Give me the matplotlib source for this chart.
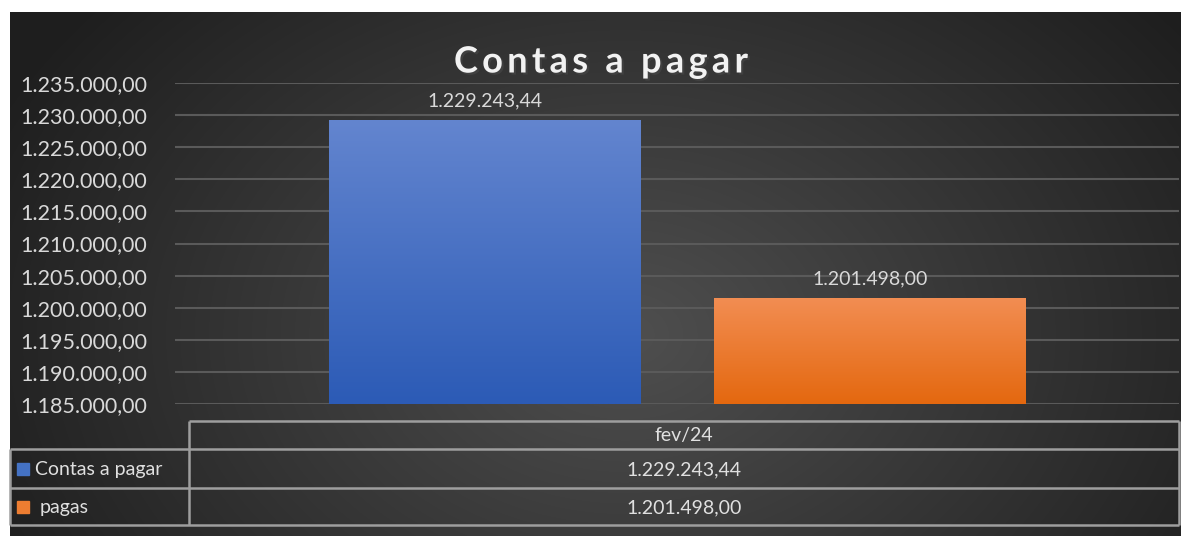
import matplotlib.pyplot as plt
import matplotlib.patheffects as pe
import matplotlib.colors as mcolors
import numpy as np

# data
title = 'Contas a pagar'
category = 'fev/24'
series = ['Contas a pagar', 'pagas']
values = [1229243.44, 1201498.00]
colors_top = ['#6385cf', '#f28d52']
colors_bottom = ['#2c5bb6', '#e4680f']
legend_colors = ['#4472c4', '#ed7d31']
yticks = [1185000, 1190000, 1195000, 1200000, 1205000, 1210000,
          1215000, 1220000, 1225000, 1230000, 1235000]


def br(v):
    s = f'{v:,.2f}'
    return s.replace(',', 'X').replace('.', ',').replace('X', '.')


W, H = 1181, 536
plt.rcParams['font.family'] = ['Lato', 'DejaVu Sans']
fig = plt.figure(figsize=(W / 100, H / 100), dpi=100)
renderer = fig.canvas.get_renderer()

# background (radial gradient) + table in pixel coordinates
bg = fig.add_axes([0, 0, 1, 1], zorder=0)
bg.set_xlim(0, W)
bg.set_ylim(H, 0)
bg.axis('off')
yy, xx = np.mgrid[0:H, 0:W]
r = np.sqrt(((xx - 620) / 700.0) ** 2 + ((yy - 330) / 520.0) ** 2)
shade = np.clip(0.31 - 0.19 * r, 0.12, 0.31)
img = np.dstack([shade, shade, shade])
bg.imshow(img, extent=(10, W, H, 12), aspect='auto', interpolation='bilinear')

line_kw = dict(color='#9e9e9e', lw=1.8, solid_capstyle='butt')
x_left, x_mid, x_right = 10, 189, 1179
y_top, y_r1, y_r2, y_bot = 421, 449, 488, 525
bg.plot([x_mid, x_right], [y_top, y_top], **line_kw)
for yv in (y_r1, y_r2, y_bot):
    bg.plot([x_left, x_right], [yv, yv], **line_kw)
bg.plot([x_mid, x_mid], [y_top, y_bot], **line_kw)
bg.plot([x_right, x_right], [y_top, y_bot], **line_kw)
bg.plot([x_left, x_left], [y_r1, y_bot], **line_kw)

txt = '#e0e0e0'
cx = (x_mid + x_right) / 2
bg.text(cx, (y_top + y_r1) / 2 + 1, category, ha='center', va='center', color=txt, fontsize=14)
row_mid = [(y_r1 + y_r2) / 2, (y_r2 + y_bot) / 2]
for i, name in enumerate(series):
    bg.add_patch(plt.Rectangle((17, row_mid[i] - 6), 12, 12, color=legend_colors[i]))
    bg.text(35 if i == 0 else 40, row_mid[i] + 1, name, ha='left', va='center', color=txt, fontsize=14)
    bg.text(cx, row_mid[i] + 1, br(values[i]), ha='center', va='center', color=txt, fontsize=14)

# title with letter spacing, drawn char by char
tkw = dict(fontsize=26, fontweight='bold')


def text_w(s):
    t = bg.text(0, 0, s, **tkw)
    w = t.get_window_extent(renderer).width
    t.remove()
    return w


spacing = 4.3
bar_w = text_w('|')
offsets = [text_w(title[:k] + '|') - bar_w + k * spacing for k in range(len(title))]
total = offsets[-1] + text_w(title[-1])
x0 = 601 - total / 2
for k, ch in enumerate(title):
    if ch == ' ':
        continue
    bg.text(x0 + offsets[k], 59, ch, ha='left', va='center_baseline', color='#f2f2f2',
            path_effects=[pe.withSimplePatchShadow(offset=(1.5, -1.5), alpha=0.6)], **tkw)

# main chart
ax = fig.add_axes([175 / W, 1 - 404 / H, (1179 - 175) / W, (404 - 83) / H], zorder=1)
ax.patch.set_alpha(0)
ax.set_xlim(-1.305, 1.3026)
ax.set_ylim(yticks[0], yticks[-1])
ax.set_yticks(yticks)
ax.set_yticklabels([br(t) for t in yticks], color='#d9d9d9', fontsize=15.5)
ax.tick_params(axis='y', length=0, pad=20)
ax.set_xticks([])
for s in ax.spines.values():
    s.set_visible(False)
ax.grid(axis='y', color='#5a5a5a', lw=1.5)
ax.set_axisbelow(True)

xpos = [-0.5, 0.5]
width = 0.808
bars = ax.bar(xpos, [v - yticks[0] for v in values], width=width, bottom=yticks[0],
              color=legend_colors, zorder=2)
for i, b in enumerate(bars):
    c0 = np.array(mcolors.to_rgb(colors_top[i]))
    c1 = np.array(mcolors.to_rgb(colors_bottom[i]))
    t = np.linspace(0, 1, 100)[:, None]
    grad = (c0 * (1 - t) + c1 * t)[:, None, :]
    bx = b.get_x()
    im = ax.imshow(grad, extent=(bx, bx + width, yticks[0], values[i]), aspect='auto',
                   zorder=3, interpolation='bilinear')
    im.set_clip_path(b)
    ax.text(xpos[i], values[i] + 1700, br(values[i]), ha='center', va='bottom',
            color='#d9d9d9', fontsize=14, zorder=4)

fig.savefig('out.png', dpi=100, facecolor='white')
